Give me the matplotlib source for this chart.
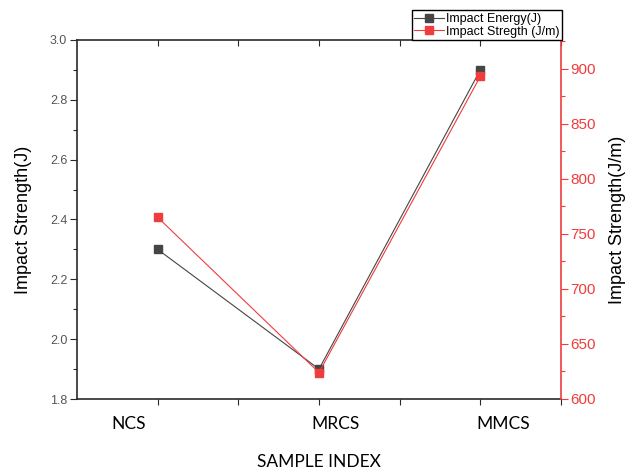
import matplotlib
matplotlib.use("Agg")
import matplotlib.pyplot as plt
from matplotlib.ticker import MultipleLocator, FixedLocator, NullFormatter

# ── data ─────────────────────────────────────────────────────────────────────
samples = ["NCS", "MRCS", "MMCS"]
sample_x = [1, 2, 3]
impact_energy = [2.3, 1.9, 2.9]          # J
impact_strength = [765, 624, 893]        # J/m

# label x offsets (data units) for the sample names under the axis
name_x = [0.82, 2.10, 3.14]

BLACK = "#454545"
RED = "#f03c3c"
AXIS = "#2a2a2a"

plt.rcParams["font.family"] = ["Liberation Sans", "DejaVu Sans"]

fig = plt.figure(figsize=(6.28, 4.70), dpi=100)
ax = fig.add_axes([77 / 628, 71 / 470, 484 / 628, 359 / 470])
ax2 = ax.twinx()

# ── series ───────────────────────────────────────────────────────────────────
l1, = ax.plot(sample_x, impact_energy, color=BLACK, lw=0.8, marker="s",
              ms=6, mfc=BLACK, mec=BLACK, label="Impact Energy(J)")
l2, = ax2.plot(sample_x, impact_strength, color=RED, lw=0.8, marker="s",
               ms=6, mfc=RED, mec=RED, label="Impact Stregth (J/m)")

# ── left axis ────────────────────────────────────────────────────────────────
ax.set_xlim(0.5, 3.5)
ax.set_ylim(1.8, 3.0)
ax.yaxis.set_major_locator(MultipleLocator(0.2))
ax.yaxis.set_minor_locator(MultipleLocator(0.1))
ax.yaxis.set_major_formatter(plt.FuncFormatter(lambda v, _: f"{v:.1f}"))
ax.tick_params(axis="y", which="major", direction="out", length=5, width=0.8,
               colors=AXIS, labelcolor="#555555", labelsize=9, pad=2)
ax.tick_params(axis="y", which="minor", direction="out", length=3, width=0.8,
               colors=AXIS)
ax.set_ylabel("Impact Strength(J)", fontsize=13, color="black", labelpad=13)

# x ticks: majors on the samples, minors between
ax.xaxis.set_major_locator(FixedLocator(sample_x))
ax.xaxis.set_minor_locator(FixedLocator([1.5, 2.5, 3.5]))
ax.xaxis.set_major_formatter(NullFormatter())
ax.tick_params(axis="x", which="both", direction="out", length=4, width=0.8,
               colors=AXIS, top=False)

for s in ("left", "bottom", "top"):
    ax.spines[s].set_color(AXIS)
    ax.spines[s].set_linewidth(1.2)
ax.spines["right"].set_visible(False)

# inward ticks on the top edge
top = ax.secondary_xaxis("top")
top.xaxis.set_major_locator(FixedLocator(sample_x))
top.xaxis.set_minor_locator(FixedLocator([1.5, 2.5, 3.5]))
top.xaxis.set_major_formatter(NullFormatter())
top.tick_params(axis="x", which="both", direction="in", length=4, width=0.8,
                colors=AXIS)
top.spines["top"].set_visible(False)

for name, xp in zip(samples, name_x):
    ax.text(xp, -0.07, name, transform=ax.get_xaxis_transform(),
            ha="center", va="center", fontsize=12.5, family="Lato")
ax.text(0.5, -0.175, "SAMPLE INDEX", transform=ax.transAxes, ha="center",
        va="center", fontsize=12.5, family="Lato")

# ── right axis ───────────────────────────────────────────────────────────────
ax2.set_ylim(600, 926)
ax2.yaxis.set_major_locator(MultipleLocator(50))
ax2.yaxis.set_minor_locator(MultipleLocator(25))
ax2.tick_params(axis="y", which="major", direction="out", length=5, width=0.8,
                colors=RED, labelsize=11, pad=2)
ax2.tick_params(axis="y", which="minor", direction="out", length=3, width=0.8,
                colors=RED)
for s in ("left", "bottom", "top"):
    ax2.spines[s].set_visible(False)
ax2.spines["right"].set_color(RED)
ax2.spines["right"].set_linewidth(1.2)
ax2.set_ylabel("Impact Strength(J/m)", fontsize=13, color="black", labelpad=9)

# ── legend ───────────────────────────────────────────────────────────────────
leg = fig.legend(handles=[l1, l2], loc="lower right",
                 bbox_to_anchor=(562 / 628, 1 - 40 / 470),
                 fontsize=9, frameon=True, fancybox=False, framealpha=1,
                 edgecolor="black", borderpad=0.2, labelspacing=0.05,
                 handlelength=2.4, handletextpad=0.15, borderaxespad=0)
leg.get_frame().set_linewidth(1.0)
for h in leg.legend_handles:
    h.set_markersize(6)

fig.savefig("out.png", dpi=100)
